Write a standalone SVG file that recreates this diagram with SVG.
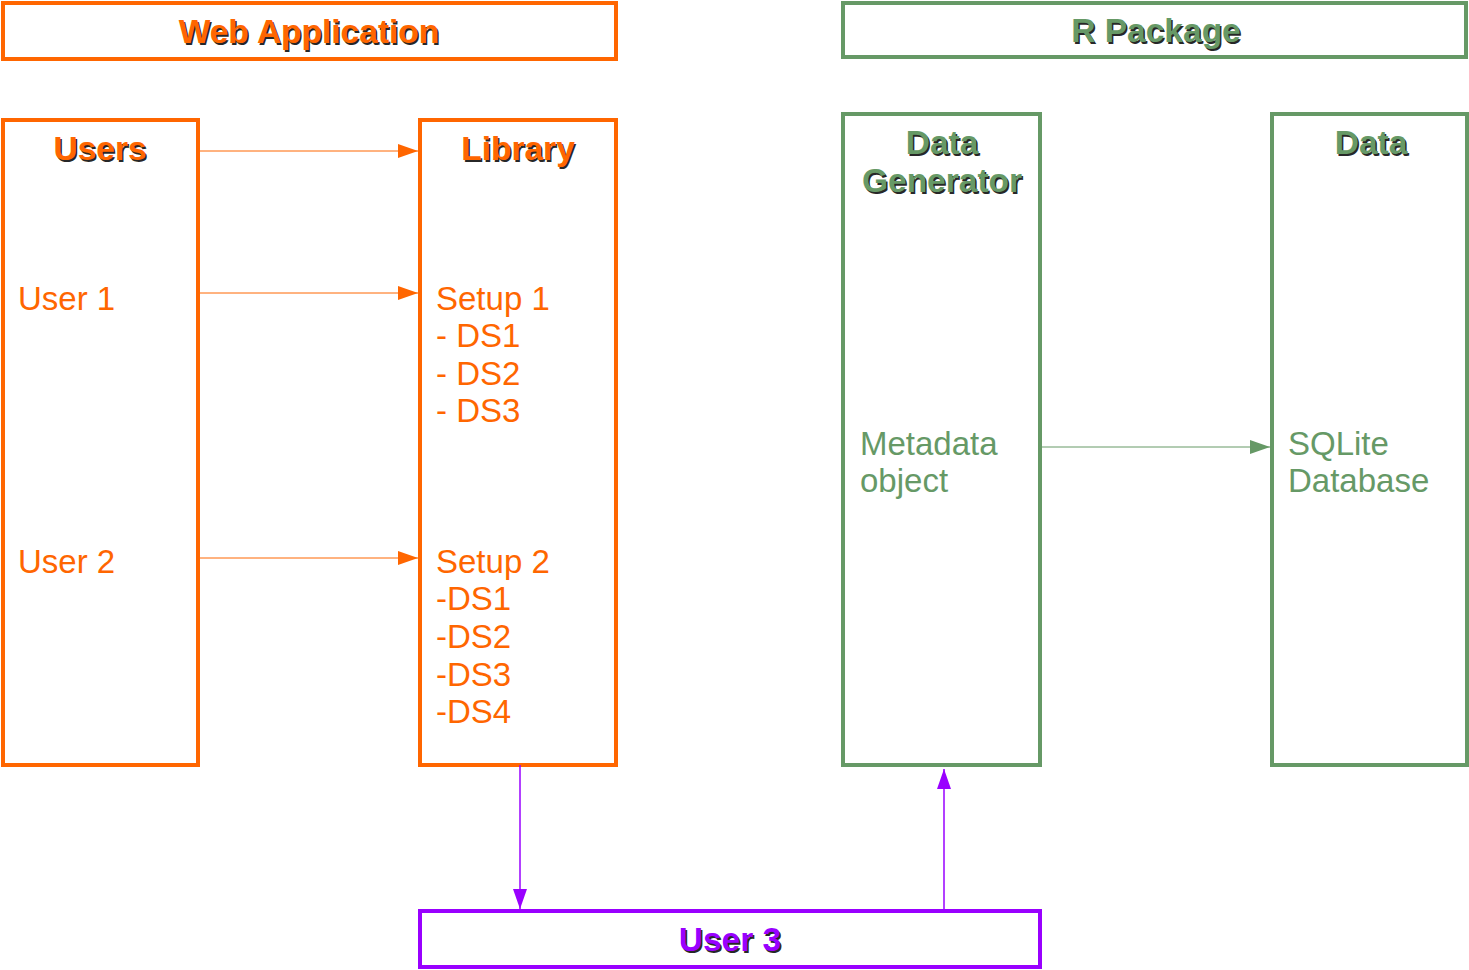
<svg xmlns="http://www.w3.org/2000/svg" width="1469" height="970" viewBox="0 0 1469 970">
<style>
.box{fill:#fff;stroke-width:4;}
.o{stroke:#FF6600;}
.g{stroke:#669966;}
.p{stroke:#9900FF;}
.t{font-family:"Liberation Sans",Arial,sans-serif;font-weight:bold;font-size:33.5px;text-anchor:middle;}
.sh{fill:#000;fill-opacity:0.85;}
.n{font-family:"Liberation Sans",Arial,sans-serif;font-size:33px;}
.to{fill:#FF6600;}
.tg{fill:#669966;}
.tp{fill:#9900FF;}
.c{fill:none;}
</style>
<defs>
<marker id="ao" markerWidth="20" markerHeight="14" refX="20" refY="7" orient="auto" markerUnits="userSpaceOnUse"><path d="M0,0 L20,7 L0,14 Z" fill="#FF6600"/></marker>
<marker id="ag" markerWidth="20" markerHeight="14" refX="20" refY="7" orient="auto" markerUnits="userSpaceOnUse"><path d="M0,0 L20,7 L0,14 Z" fill="#669966"/></marker>
<marker id="ap" markerWidth="20" markerHeight="14" refX="20" refY="7" orient="auto" markerUnits="userSpaceOnUse"><path d="M0,0 L20,7 L0,14 Z" fill="#9900FF"/></marker>
</defs>

<g id="web-application">
<rect class="box o" x="3" y="3" width="613" height="56"/>
<text class="t sh" x="310.5" y="44.5">Web Application</text>
<text class="t to" x="309" y="43">Web Application</text>
</g>

<g id="r-package">
<rect class="box g" x="843" y="3" width="623" height="54"/>
<text class="t sh" x="1157.5" y="43.5">R Package</text>
<text class="t tg" x="1156" y="42">R Package</text>
</g>

<g id="users">
<rect class="box o" x="3" y="120" width="195" height="645"/>
<text class="t sh" x="101.5" y="161.5">Users</text>
<text class="t to" x="100" y="160">Users</text>
<text class="n to" x="18" y="310">User 1</text>
<text class="n to" x="18" y="573">User 2</text>
</g>

<g id="library">
<rect class="box o" x="420" y="120" width="196" height="645"/>
<text class="t sh" x="519.5" y="161.5">Library</text>
<text class="t to" x="518" y="160">Library</text>
<text class="n to" x="436" y="310">Setup 1</text>
<text class="n to" x="436" y="347">- DS1</text>
<text class="n to" x="436" y="385">- DS2</text>
<text class="n to" x="436" y="422">- DS3</text>
<text class="n to" x="436" y="573">Setup 2</text>
<text class="n to" x="436" y="610">-DS1</text>
<text class="n to" x="436" y="648">-DS2</text>
<text class="n to" x="436" y="686">-DS3</text>
<text class="n to" x="436" y="723">-DS4</text>
</g>

<g id="data-generator">
<rect class="box g" x="843" y="114" width="197" height="651"/>
<text class="t sh" x="943.5" y="155.5">Data</text>
<text class="t tg" x="942" y="154">Data</text>
<text class="t sh" x="943.5" y="193.5">Generator</text>
<text class="t tg" x="942" y="192">Generator</text>
<text class="n tg" x="860" y="455">Metadata</text>
<text class="n tg" x="860" y="492">object</text>
</g>

<g id="data">
<rect class="box g" x="1272" y="114" width="195" height="651"/>
<text class="t sh" x="1372.5" y="155.5">Data</text>
<text class="t tg" x="1371" y="154">Data</text>
<text class="n tg" x="1288" y="455">SQLite</text>
<text class="n tg" x="1288" y="492">Database</text>
</g>

<g id="user-3">
<rect class="box p" x="420" y="911" width="620" height="56"/>
<text class="t sh" x="731.5" y="952.5">User 3</text>
<text class="t tp" x="730" y="951">User 3</text>
</g>

<g id="connectors">
<line class="c o" x1="200" y1="151" x2="418" y2="151" stroke-width="1" marker-end="url(#ao)"/>
<line class="c o" x1="200" y1="293" x2="418" y2="293" stroke-width="1" marker-end="url(#ao)"/>
<line class="c o" x1="200" y1="558" x2="418" y2="558" stroke-width="1" marker-end="url(#ao)"/>
<line class="c g" x1="1042" y1="447" x2="1270" y2="447" stroke-width="1" marker-end="url(#ag)"/>
<line class="c p" x1="520" y1="765" x2="520" y2="909" stroke-width="1.5" marker-end="url(#ap)"/>
<line class="c p" x1="944" y1="909" x2="944" y2="769" stroke-width="1.5" marker-end="url(#ap)"/>
</g>
</svg>
